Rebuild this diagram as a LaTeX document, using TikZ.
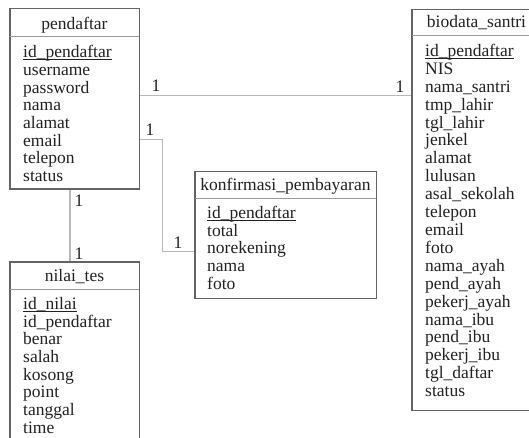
\documentclass[tikz,border=0pt]{standalone}
\usepackage{fontspec}
\setmainfont{Liberation Serif}
\usetikzlibrary{calc}

\definecolor{boxgray}{HTML}{646464}
\definecolor{divgray}{HTML}{9A9A9A}
\definecolor{linkgray}{HTML}{B8B8B8}
\definecolor{inkgray}{HTML}{222222}

\begin{document}
\begin{tikzpicture}[
    x = 1pt, y = -1pt,
    every node/.style = {text = inkgray, font = \fontsize{17.5}{17.6}\selectfont},
    entity/.style  = {draw = boxgray, line width = 1pt, fill = white, inner sep = 0pt},
    title/.style   = {anchor = base, inner sep = 0pt},
    field/.style   = {anchor = base west, inner sep = 0pt},
    keyline/.style = {draw = inkgray, line width = 0.8pt},
    divider/.style = {draw = divgray, line width = 1pt},
    conn/.style    = {draw = linkgray, line width = 1.4pt},
    lbl/.style     = {anchor = base, inner sep = 0pt}
  ]
  \useasboundingbox (0,0) rectangle (529,438);
  \fill[white] (0,0) rectangle (529,438);
  \clip (0,0) rectangle (529,438);

  % Tables
  \node[entity, minimum width = 129pt, minimum height = 180pt] (pendaftar) at (74.5,99) {};
  \node[entity, minimum width = 129pt, minimum height = 208pt] (nilai) at (74.5,366) {};
  \node[entity, minimum width = 181pt, minimum height = 126pt] (konfirmasi) at (285.5,235) {};
  \node[entity, minimum width = 129pt, minimum height = 400pt] (biodata) at (476.5,210) {};

  % Header lines
  \draw[divider] ([yshift=-28pt]pendaftar.north west) -- ([yshift=-28pt]pendaftar.north east);
  \draw[divider] ([yshift=-28pt]nilai.north west) -- ([yshift=-28pt]nilai.north east);
  \draw[divider] ([yshift=-27pt]konfirmasi.north west) -- ([yshift=-27pt]konfirmasi.north east);
  \draw[divider] ([yshift=-26pt]biodata.north west) -- ([yshift=-26pt]biodata.north east);

  % pendaftar
  \node[title] (pendaftar-title) at (74.5,30) {pendaftar};
  \node[field] (pendaftar-key) at (23,58) {id\_pendaftar};
  \draw[keyline] ([yshift=-1.8pt]pendaftar-key.base west) -- ([yshift=-1.8pt]pendaftar-key.base east);
  \foreach \f [count=\i] in {username, password, nama, alamat, email, telepon, status}
    \node[field] (pendaftar-\i) at (23,{58+17.64*\i}) {\f};

  % nilai_tes
  \node[title] (nilai-title) at (74.5,281.5) {nilai\_tes};
  \node[field] (nilai-key) at (23,309.5) {id\_nilai};
  \draw[keyline] ([yshift=-1.8pt]nilai-key.base west) -- ([yshift=-1.8pt]nilai-key.base east);
  \foreach \f [count=\i] in {id\_pendaftar, benar, salah, kosong, point, tanggal, time}
    \node[field] (nilai-\i) at (23,{309.5+17.65*\i}) {\f};

  % konfirmasi_pembayaran
  \node[title] (konfirmasi-title) at (285.5,190.5) {konfirmasi\_pembayaran};
  \node[field] (konfirmasi-key) at (207,218.5) {id\_pendaftar};
  \draw[keyline] ([yshift=-1.8pt]konfirmasi-key.base west) -- ([yshift=-1.8pt]konfirmasi-key.base east);
  \foreach \f [count=\i] in {total, norekening, nama, foto}
    \node[field] (konfirmasi-\i) at (207,{218.5+17.7*\i}) {\f};

  % biodata_santri
  \node[title] (biodata-title) at (476.5,28) {biodata\_santri};
  \node[field] (biodata-key) at (425,56.5) {id\_pendaftar};
  \draw[keyline] ([yshift=-1.8pt]biodata-key.base west) -- ([yshift=-1.8pt]biodata-key.base east);
  \foreach \f [count=\i] in {NIS, nama\_santri, tmp\_lahir, tgl\_lahir, jenkel, alamat,
      lulusan, asal\_sekolah, telepon, email, foto, nama\_ayah, pend\_ayah,
      pekerj\_ayah, nama\_ibu, pend\_ibu, pekerj\_ibu, tgl\_daftar, status}
    \node[field] (biodata-\i) at (425,{56.5+17.9*\i}) {\f};

  % Relations
  \draw[conn] ([yshift=-87pt]pendaftar.north east) -- ([yshift=-86pt]biodata.north west);
  \draw[conn] ([yshift=-131pt]pendaftar.north east) -- ++(23,0)
    |- ([yshift=-80pt]konfirmasi.north west);
  \draw[conn] ([xshift=-4.5pt]pendaftar.south) -- ([xshift=-4.5pt]nilai.north);
  \draw[entity, fill = none] (pendaftar.north west) rectangle (pendaftar.south east);
  \draw[entity, fill = none] (nilai.north west) rectangle (nilai.south east);
  \draw[entity, fill = none] (konfirmasi.north west) rectangle (konfirmasi.south east);
  \draw[entity, fill = none] (biodata.north west) rectangle (biodata.south east);

  % Labels
  \node[lbl] (card-pb-a) at (156,92) {1};
  \node[lbl] (card-pb-b) at (400,92.5) {1};
  \node[lbl] (card-pk-a) at (150,136) {1};
  \node[lbl] (card-pk-b) at (178,248) {1};
  \node[lbl] (card-pn-a) at (79,206) {1};
  \node[lbl] (card-pn-b) at (79,259) {1};

\end{tikzpicture}
\end{document}
